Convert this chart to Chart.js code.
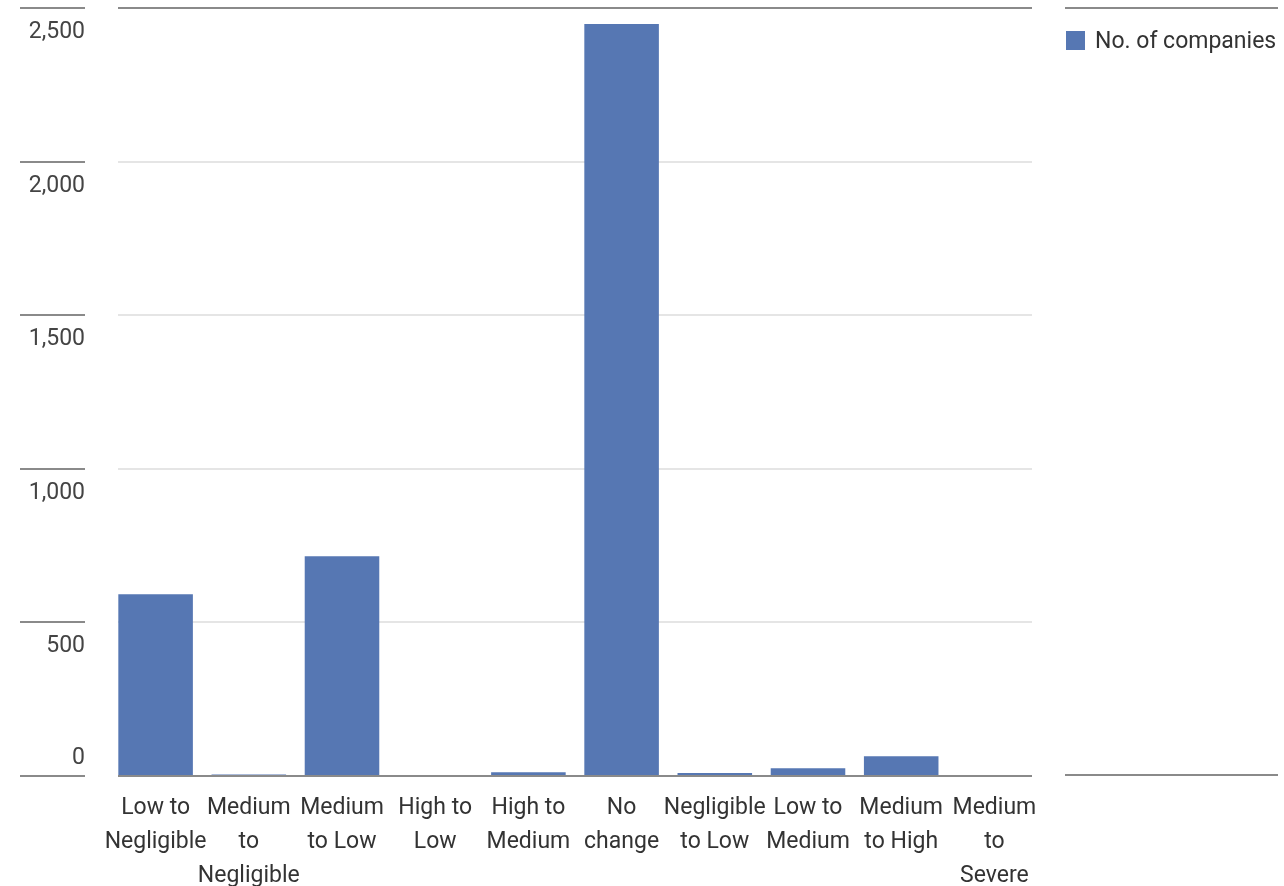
<!DOCTYPE html>
<html>
<head>
<meta charset="utf-8">
<script src="https://cdn.jsdelivr.net/npm/chart.js@4/dist/chart.umd.min.js"></script>
<style>
  html, body { margin: 0; padding: 0; background: #fff; }
  #wrap { width: 1284px; height: 886px; position: relative; }
</style>
</head>
<body>
<div id="wrap"><canvas id="bar-chart"></canvas></div>
<script>
'use strict';
// data
const categories = [
  ['Low to', 'Negligible'], ['Medium', 'to', 'Negligible'], ['Medium', 'to Low'],
  ['High to', 'Low'], ['High to', 'Medium'], ['No', 'change'],
  ['Negligible', 'to Low'], ['Low to', 'Medium'], ['Medium', 'to High'],
  ['Medium', 'to', 'Severe']
];
const companies = [592, 5, 715, 1, 12, 2448, 10, 25, 64, 1];
const yTicks = [0, 500, 1000, 1500, 2000, 2500];
const yTickLabels = ['0', '500', '1,000', '1,500', '2,000', '2,500'];
const seriesName = 'No. of companies';

const FONT = '"Roboto", sans-serif';
const barColor = '#5677b3';
const darkLine = '#8a8a8a';
const lightLine = '#dcdcdc';

// gridlines, y labels, legend
const decor = {
  id: 'decor',
  beforeDatasetsDraw(chart) {
    const ctx = chart.ctx;
    const y = chart.scales.y;
    ctx.save();
    yTicks.forEach((t, i) => {
      const py = Math.round(y.getPixelForValue(t));
      const edge = i === 0 || i === yTicks.length - 1;
      ctx.strokeStyle = edge ? darkLine : lightLine;
      ctx.lineWidth = edge ? 2 : 1.5;
      ctx.beginPath();
      ctx.moveTo(118, py);
      ctx.lineTo(1032, py);
      ctx.stroke();
    });
    ctx.restore();
  },
  afterDatasetsDraw(chart) {
    const ctx = chart.ctx;
    const y = chart.scales.y;
    ctx.save();
    // zero line on top of bars
    const zy = Math.round(y.getPixelForValue(0));
    ctx.strokeStyle = darkLine;
    ctx.lineWidth = 2;
    ctx.beginPath();
    ctx.moveTo(118, zy);
    ctx.lineTo(1032, zy);
    ctx.stroke();

    ctx.font = '23px ' + FONT;
    ctx.fillStyle = '#444';
    ctx.textAlign = 'right';
    ctx.textBaseline = 'middle';
    yTicks.forEach((t, i) => {
      const py = Math.round(y.getPixelForValue(t));
      ctx.strokeStyle = darkLine;
      ctx.lineWidth = 2;
      ctx.beginPath();
      ctx.moveTo(20, py);
      ctx.lineTo(85, py);
      ctx.stroke();
      ctx.fillText(yTickLabels[i], 85, i === 0 ? py - 18 : py + 24);
    });

    // legend
    ctx.strokeStyle = darkLine;
    ctx.lineWidth = 2;
    ctx.beginPath();
    ctx.moveTo(1065, Math.round(y.getPixelForValue(2500)));
    ctx.lineTo(1278, Math.round(y.getPixelForValue(2500)));
    ctx.moveTo(1065, zy - 1);
    ctx.lineTo(1278, zy - 1);
    ctx.stroke();
    ctx.fillStyle = barColor;
    ctx.fillRect(1066, 31, 19, 19);
    ctx.fillStyle = '#333';
    ctx.textAlign = 'left';
    ctx.fillText(seriesName, 1095, 42);
    ctx.restore();
  }
};

new Chart(document.getElementById('bar-chart'), {
  type: 'bar',
  data: {
    labels: categories,
    datasets: [{
      label: seriesName,
      data: companies,
      backgroundColor: barColor,
      borderWidth: 0,
      barPercentage: 0.8,
      categoryPercentage: 1.0
    }]
  },
  options: {
    responsive: true,
    maintainAspectRatio: false,
    animation: false,
    layout: { padding: { left: 109, right: 243, top: 8, bottom: 0 } },
    plugins: {
      legend: { display: false },
      tooltip: { enabled: false }
    },
    scales: {
      x: {
        grid: { display: false, drawTicks: false },
        border: { display: false },
        ticks: {
          color: '#333',
          padding: 15,
          maxRotation: 0,
          autoSkip: false,
          font: { family: FONT, size: 23, lineHeight: 1.48 }
        },
        afterFit(scale) { scale.height = 110; }
      },
      y: {
        display: false,
        min: 0,
        max: 2500
      }
    }
  },
  plugins: [decor]
});
</script>
</body>
</html>
